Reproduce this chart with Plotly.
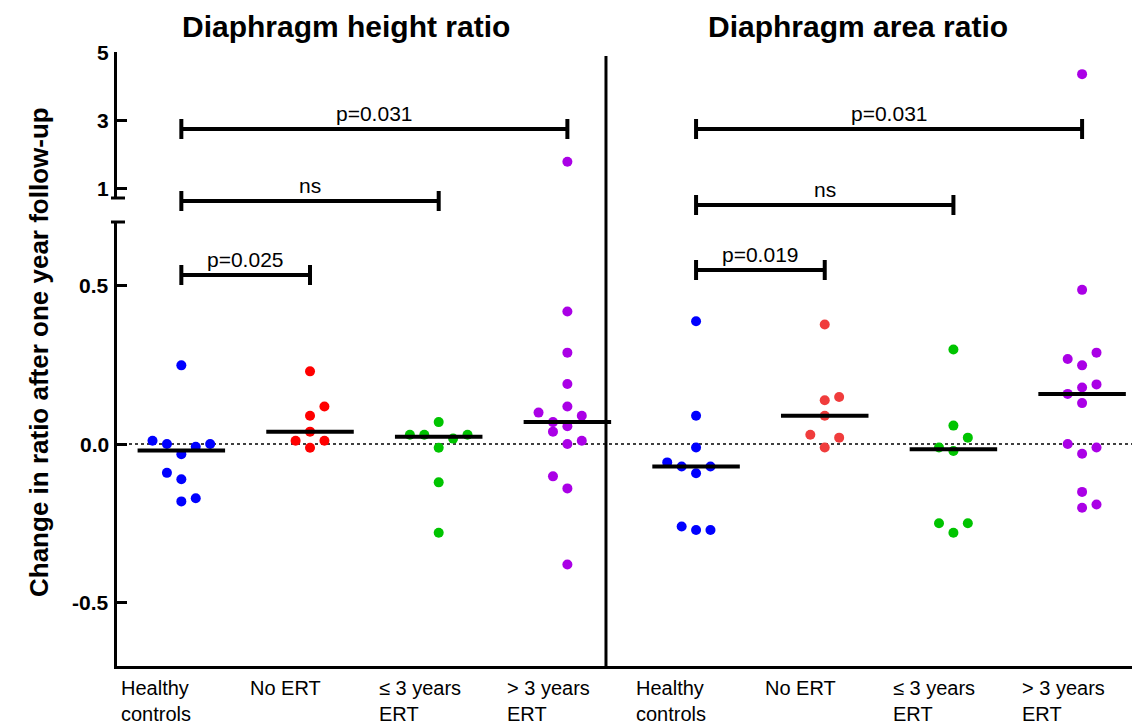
import numpy as np
import plotly.graph_objects as go

# ---------------- data ----------------
categories = ["Healthy controls", "No ERT", "≤ 3 years ERT", "> 3 years ERT"]
category_labels = ["Healthy<br>controls", "No ERT", "≤ 3 years<br>ERT", "> 3 years<br>ERT"]
panel_titles = ["Diaphragm height ratio", "Diaphragm area ratio"]
y_title = "Change in ratio after one year follow-up"

lower_ticks = [-0.5, 0.0, 0.5]
lower_tick_text = ["-0.5", "0.0", "0.5"]
upper_ticks = [1, 3, 5]
upper_tick_text = ["1", "3", "5"]

# Diaphragm height ratio (change after one year)
height_healthy = [0.248, 0.010, 0.000, -0.009, 0.000, -0.032, -0.091, -0.111, -0.181, -0.171]
height_no_ert = [0.229, 0.118, 0.089, 0.039, 0.010, 0.010, -0.012]
height_le3 = [0.069, 0.029, 0.029, 0.017, 0.029, -0.012, -0.121, -0.280]
height_gt3 = [1.78, 0.418, 0.288, 0.189, 0.118, 0.099, 0.089, 0.069, 0.056, 0.039,
              0.000, 0.010, -0.102, -0.140, -0.380]

# Diaphragm area ratio (change after one year)
area_healthy = [0.387, 0.089, -0.011, -0.058, -0.071, -0.071, -0.092, -0.260, -0.271, -0.271]
area_no_ert = [0.377, 0.148, 0.138, 0.089, 0.029, 0.020, -0.011]
area_le3 = [0.298, 0.058, 0.020, -0.011, -0.022, -0.250, -0.250, -0.280]
area_gt3 = [4.35, 0.486, 0.288, 0.268, 0.248, 0.188, 0.178, 0.158, 0.129, 0.000,
            -0.011, -0.031, -0.151, -0.191, -0.201]

# scatter (column) slots of the points
height_healthy_slot = [0, -2, -1, 1, 2, 0, -1, 0, 0, 1]
height_no_ert_slot = [0, 1, 0, 0, -1, 1, 0]
height_le3_slot = [0, -2, -1, 1, 2, 0, 0, 0]
height_gt3_slot = [0, 0, 0, 0, 0, -2, 1, -1, 0, -1, 0, 1, -1, 0, 0]
area_healthy_slot = [0, 0, 0, -2, -1, 1, 0, -1, 0, 1]
area_no_ert_slot = [0, 1, 0, 0, -1, 1, 0]
area_le3_slot = [0, 0, 1, -1, 0, -1, 1, 0]
area_gt3_slot = [0, 0, 1, -1, 0, 1, 0, -1, 0, -1, 1, 0, 0, 1, 0]

# significance comparisons: (from category, to category, label)
comparisons_height = [(0, 3, "p=0.031"), (0, 2, "ns"), (0, 1, "p=0.025")]
comparisons_area = [(0, 3, "p=0.031"), (0, 2, "ns"), (0, 1, "p=0.019")]

# ---------------- styling / layout ----------------
OFF = 8                      # page body margin of the html page
W, H = 1140 - OFF, 724 - OFF
PLOT_L, PLOT_T, PLOT_B = 117, 52, 666   # page pixels of the plot frame
ML, MR, MT, MB = PLOT_L - OFF, 0, PLOT_T - OFF, (724 - PLOT_B)
PH = H - MT - MB
PW = W - ML - MR


def py(pix):
    """page pixel row -> paper y"""
    return (PLOT_B - pix) / PH


def pxx(pix):
    """page pixel column -> paper x"""
    return (pix - PLOT_L) / PW


FONT = "Liberation Sans, Arial, sans-serif"
BREAK = 0.7
colors_height = ["#0000FF", "#FF0000", "#00C400", "#AA00E6"]
colors_area = ["#0000FF", "#F03C3C", "#00C400", "#AA00E6"]
JIT = 0.112
MED_HALF = 0.34

panels = [
    dict(offset=0, values=[height_healthy, height_no_ert, height_le3, height_gt3],
         slots=[height_healthy_slot, height_no_ert_slot, height_le3_slot, height_gt3_slot],
         colors=colors_height, comps=comparisons_height,
         bar_px=[129, 201, 275], title_px=346, title=panel_titles[0]),
    dict(offset=4, values=[area_healthy, area_no_ert, area_le3, area_gt3],
         slots=[area_healthy_slot, area_no_ert_slot, area_le3_slot, area_gt3_slot],
         colors=colors_area, comps=comparisons_area,
         bar_px=[129, 205, 270], title_px=858, title=panel_titles[1]),
]

fig = go.Figure()
shapes = []
annotations = []

for p in panels:
    for ci, (vals, slots, col) in enumerate(zip(p["values"], p["slots"], p["colors"])):
        pos = p["offset"] + ci
        v = np.array(vals, dtype=float)
        xs = pos + JIT * np.array(slots, dtype=float)
        low = v <= BREAK
        fig.add_trace(go.Scatter(x=xs[low], y=v[low], mode="markers",
                                 marker=dict(color=col, size=10, line=dict(width=0)),
                                 xaxis="x", yaxis="y", showlegend=False,
                                 name=categories[ci], hoverinfo="name+y"))
        if (~low).any():
            fig.add_trace(go.Scatter(x=xs[~low], y=v[~low], mode="markers",
                                     marker=dict(color=col, size=10, line=dict(width=0)),
                                     xaxis="x", yaxis="y2", showlegend=False,
                                     name=categories[ci], hoverinfo="name+y"))
        med = float(np.median(v))
        fig.add_trace(go.Scatter(x=[pos - MED_HALF, pos + MED_HALF], y=[med, med], mode="lines",
                                 line=dict(color="black", width=4), xaxis="x", yaxis="y",
                                 showlegend=False, hoverinfo="skip"))
        annotations.append(dict(x=pos, xref="x", y=py(675), yref="paper", xanchor="left",
                                xshift=-62, yanchor="top", align="left", showarrow=False,
                                text=category_labels[ci],
                                font=dict(family=FONT, size=20, color="black")))
    # significance brackets
    for (a, b, lab), bpx in zip(p["comps"], p["bar_px"]):
        x0 = p["offset"] + a
        x1 = p["offset"] + b
        yb = py(bpx)
        cap = 10 / PH
        for sx0, sy0, sx1, sy1 in [(x0, yb, x1, yb), (x0, yb - cap, x0, yb + cap),
                                   (x1, yb - cap, x1, yb + cap)]:
            shapes.append(dict(type="line", xref="x", yref="paper", x0=sx0, x1=sx1,
                               y0=sy0, y1=sy1, line=dict(color="black", width=4)))
        annotations.append(dict(x=(x0 + x1) / 2, xref="x", y=yb, yref="paper",
                                yanchor="bottom", yshift=2, showarrow=False, text=lab,
                                font=dict(family=FONT, size=21, color="black")))
    annotations.append(dict(x=pxx(p["title_px"]), xref="paper", y=py(27), yref="paper",
                            xanchor="center", yanchor="middle", showarrow=False,
                            text="<b>%s</b>" % p["title"],
                            font=dict(family=FONT, size=30, color="black")))

# y tick labels (bold) for both axis segments
for yref, tv, tt in (("y", lower_ticks, lower_tick_text), ("y2", upper_ticks, upper_tick_text)):
    for v, t in zip(tv, tt):
        annotations.append(dict(x=pxx(111), xref="paper", y=v, yref=yref, xanchor="right",
                                yanchor="middle", showarrow=False, text="<b>%s</b>" % t,
                                font=dict(family=FONT, size=21, color="black")))

# zero reference line
shapes.append(dict(type="line", xref="paper", x0=0, x1=1, yref="y", y0=0, y1=0,
                   line=dict(color="black", width=1.5, dash="dot"), layer="below"))
# panel divider
shapes.append(dict(type="line", xref="x", x0=3.3, x1=3.3, yref="paper", y0=0, y1=py(56),
                   line=dict(color="black", width=3)))
# axis break marks
for bp in (198, 222):
    shapes.append(dict(type="line", xref="paper", x0=pxx(111), x1=pxx(125), yref="paper",
                       y0=py(bp), y1=py(bp), line=dict(color="black", width=3)))

annotations.append(dict(x=pxx(22), xref="paper", y=py(352), yref="paper", textangle=-90,
                        showarrow=False, text="<b>%s</b>" % y_title,
                        font=dict(family=FONT, size=26, color="black")))


def yax(**kw):
    d = dict(showgrid=False, zeroline=False, showline=True, linecolor="black",
             linewidth=3, ticks="inside", ticklen=10, tickwidth=3, tickcolor="black",
             showticklabels=False)
    d.update(kw)
    return d


fig.update_layout(
    width=W, height=H,
    margin=dict(l=ML, r=MR, t=MT, b=MB),
    paper_bgcolor="white", plot_bgcolor="white",
    xaxis=dict(range=[-0.5, 7.45], showgrid=False, zeroline=False, showline=True,
               linecolor="black", linewidth=3, showticklabels=False, ticks="",
               anchor="y", fixedrange=True),
    yaxis=yax(domain=[0, py(222)], range=[-0.7, 0.7], tickmode="array",
              tickvals=lower_ticks, anchor="x"),
    yaxis2=yax(domain=[py(198), 1], range=[0.716, 5], tickmode="array",
               tickvals=upper_ticks, anchor="x"),
    shapes=shapes,
    annotations=annotations,
    showlegend=False,
)

fig.write_html("out.html")
